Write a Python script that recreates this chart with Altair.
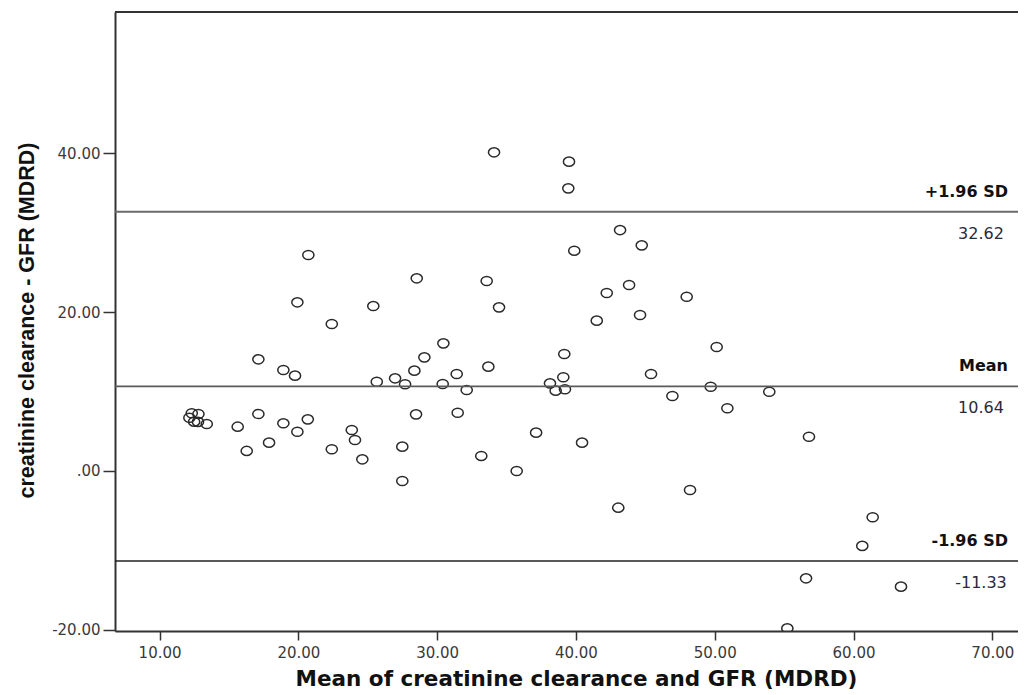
import altair as alt
import pandas as pd

# Mean of creatinine clearance and GFR (MDRD)
mean_x = [20.72, 28.53, 19.93, 25.40, 22.41, 30.45, 17.12, 29.08, 18.92, 19.76,
          28.36, 26.97, 25.65, 27.69, 30.40,
          12.32, 12.80, 12.15, 12.49, 13.40, 12.77,
          17.12, 15.63, 18.92, 20.68, 19.93, 16.28, 17.89, 23.85, 24.08, 22.41,
          24.61, 28.48, 27.49, 27.49,
          34.10, 39.50, 39.45, 43.18, 44.74, 39.88, 33.57, 43.83, 42.22, 47.98,
          34.46, 44.62, 41.50, 50.14, 39.16, 33.69, 31.41, 45.41, 39.09, 32.13,
          38.13, 38.54, 39.21, 49.71, 46.95, 31.48, 37.13, 40.44, 33.18, 35.73,
          48.22, 43.05,
          53.93, 50.91, 56.79, 61.38, 60.63, 56.58, 55.23, 63.42]
# creatinine clearance - GFR (MDRD)
diff_y = [27.17, 24.24, 21.22, 20.75, 18.49, 16.06, 14.05, 14.30, 12.70, 11.99,
          12.62, 11.66, 11.23, 10.91, 10.94,
          7.26, 7.17, 6.70, 6.20, 5.91, 6.17,
          7.17, 5.57, 6.00, 6.50, 4.94, 2.52, 3.56, 5.16, 3.90, 2.73,
          1.47, 7.13, 3.06, -1.26,
          40.09, 38.91, 35.56, 30.31, 28.39, 27.71, 23.90, 23.40, 22.39, 21.92,
          20.59, 19.62, 18.91, 15.60, 14.72, 13.12, 12.20, 12.20, 11.79, 10.19,
          11.03, 10.10, 10.28, 10.60, 9.43, 7.33, 4.82, 3.56, 1.89, 0.00,
          -2.39, -4.62,
          9.97, 7.89, 4.31, -5.82, -9.43, -13.50, -19.79, -14.55]

ref_values = [32.62, 10.64, -11.33]
ref_names = ["+1.96 SD", "Mean", "-1.96 SD"]
ref_labels = ["32.62", "10.64", "-11.33"]
ref_colors = ["#6a6a6a", "#5a5a5a", "#222222"]
ref_widths = [2.0, 1.6, 1.5]

x_ticks = [10, 20, 30, 40, 50, 60, 70]
y_ticks = [-20, 0, 20, 40]

pts = pd.DataFrame({"mean": mean_x, "diff": diff_y})
refs = pd.DataFrame({"diff": ref_values, "name": ref_names, "label": ref_labels,
                     "color": ref_colors, "width": ref_widths})

xscale = alt.Scale(domain=[6.79, 71.85], nice=False, zero=False)
yscale = alt.Scale(domain=[-20.13, 57.74], nice=False, zero=False)

xaxis = alt.Axis(values=x_ticks, format=".2f", grid=False,
                 labelFont="DejaVu Sans", labelFontSize=15, labelColor="#3a3a3a",
                 tickSize=9, tickColor="#333333", tickWidth=1.5, labelPadding=5,
                 domainColor="#333333", domainWidth=2,
                 titleFont="DejaVu Sans", titleFontSize=21.5, titleFontWeight="bold",
                 titleColor="#111111", titleX=461, titleY=54, titleAlign="center",
                 titleBaseline="alphabetic")
yaxis = alt.Axis(values=y_ticks, grid=False,
                 labelExpr="datum.value == 0 ? '.00' : (datum.value < 0 ? '-' + format(-datum.value, '.2f') : format(datum.value, '.2f'))",
                 labelFont="DejaVu Sans", labelFontSize=15, labelColor="#3a3a3a",
                 tickSize=12, tickColor="#333333", tickWidth=1.5, labelPadding=3,
                 domainColor="#333333", domainWidth=2,
                 titleFont="Liberation Sans", titleFontSize=21.5, titleFontWeight="bold",
                 titleColor="#111111", titleX=-88, titleY=308, titleAlign="center",
                 titleBaseline="middle", titleAngle=270)

y_enc = alt.Y("diff:Q", scale=yscale, axis=yaxis,
              title="creatinine clearance - GFR (MDRD)")

ellipse = "M-1,0A1,0.82,0,1,1,1,0A1,0.82,0,1,1,-1,0Z"

points = alt.Chart(pts).mark_point(
    shape=ellipse, filled=False, size=125, stroke="#2a2a2a", strokeWidth=1.5,
    opacity=1, clip=True
).encode(
    x=alt.X("mean:Q", scale=xscale, axis=xaxis,
            title="Mean of creatinine clearance and GFR (MDRD)"),
    y=y_enc,
)

rules = alt.Chart(refs).mark_rule().encode(
    y=y_enc,
    color=alt.Color("color:N", scale=None),
    strokeWidth=alt.StrokeWidth("width:Q", scale=None),
)

top_border = alt.Chart(pd.DataFrame({"a": [0]})).mark_rule(
    color="#333333", strokeWidth=2
).encode(y=alt.value(0))

name_text = alt.Chart(refs).mark_text(
    align="right", baseline="middle", dy=-20, font="DejaVu Sans",
    fontSize=16, fontWeight="bold", color="#111111"
).encode(x=alt.value(893), y=y_enc, text="name:N")

num_text = alt.Chart(refs).mark_text(
    align="center", baseline="middle", dy=22, font="DejaVu Sans",
    fontSize=16, color="#2a2a3a"
).encode(x=alt.value(866), y=y_enc, text="label:N")

chart = alt.layer(points, rules, top_border, name_text, num_text).properties(
    width=903, height=619,
    padding={"left": 107, "top": 4, "right": 0, "bottom": 58},
    autosize=alt.AutoSizeParams(type="none"),
).configure_view(fill="#F0F0F0", stroke=None).configure(background="white")

chart.save("out.html", embed_options={"renderer": "svg", "actions": False})
